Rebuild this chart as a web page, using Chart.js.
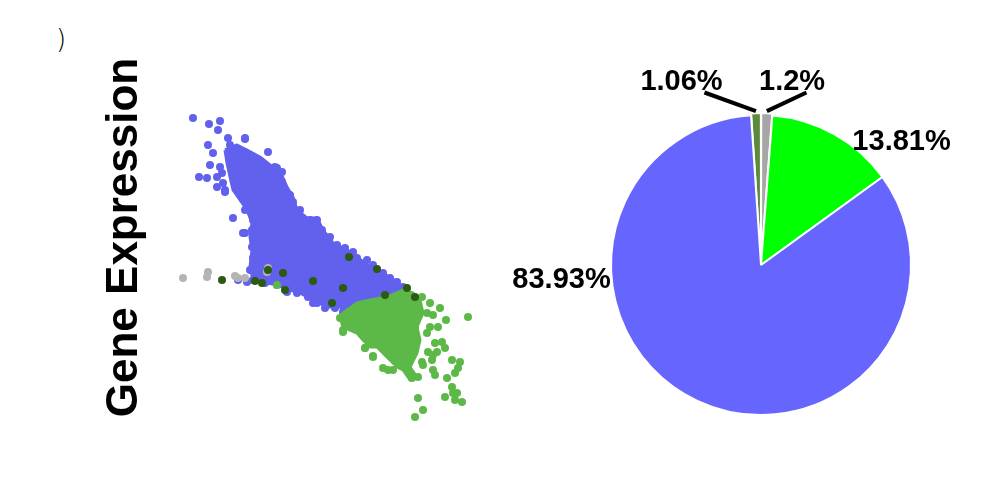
<!DOCTYPE html>
<html>
<head>
<meta charset="utf-8">
<script src="https://cdn.jsdelivr.net/npm/chart.js@4/dist/chart.umd.min.js"></script>
<style>
  body { margin: 0; background: #fff; }
  #wrap { position: relative; width: 1003px; height: 497px; overflow: hidden; }
  #left { position: absolute; left: 0; top: 0; width: 500px; height: 497px; }
  #right { position: absolute; left: 500px; top: 0; width: 503px; height: 497px; }
  #tag { position: absolute; left: 56px; top: 24px; font: 300 26px "DejaVu Sans", sans-serif; color: #000; }
</style>
</head>
<body>
<div id="wrap">
  <span id="tag">)</span>
  <div id="left"><canvas id="scatterChart"></canvas></div>
  <div id="right"><canvas id="pieChart"></canvas></div>
</div>
<script>
// datos (unidades arbitrarias)
const blueCore = [[55,280],[67,285],[77,280],[90,273],[100,265],[110,259],[117,243],[123,233],[127,220],[137,212],[147,212],[153,200],[163,187],[177,180],[187,173],[200,163],[213,157],[227,148],[233,142],[220,133],[207,130],[190,127],[177,120],[170,123],[157,123],[143,130],[130,137],[120,140],[107,145],[93,148],[83,150],[80,163],[82,180],[80,193],[82,207],[77,220],[70,230],[63,240],[60,253],[57,267],[55,280]];
const bluePoints = [[23,312],[39,306],[50,309],[48,300],[58,292],[75,291],[38,285],[43,277],[40,265],[50,263],[29,253],[37,252],[47,253],[47,243],[55,240],[53,247],[63,212],[75,197],[98,278],[107,262],[85,260],[130,220],[77,148],[68,150],[143,127],[155,122],[165,122],[173,118],[60,285],[72,278],
    [75,292],[105,263],[112,258],[112,248],[120,235],[123,228],[140,210],[147,210],[152,200],[160,193],[167,185],[175,182],[183,178],[187,172],[197,170],[203,165],[213,157],[220,152],[227,148],[233,143],
    [83,210],[82,200],[82,183],[83,172],[80,160],[83,150],[95,147],[107,145],[117,138],[127,137],[138,133],[147,127],[157,125],[165,123],
    [75,220],[73,197],[55,238],[52,257]];
const greenCore = [[170,113],[173,117],[187,127],[200,130],[217,133],[233,140],[243,137],[250,130],[253,117],[247,103],[250,90],[247,77],[240,63],[247,53],[240,50],[233,60],[227,63],[220,70],[213,77],[207,83],[200,83],[193,90],[187,97],[180,100],[173,103],[170,113]];
const greenPoints = [[298,113],[276,110],[270,122],[260,127],[263,115],[268,103],[257,97],[265,87],[272,88],[275,82],[263,75],[258,78],[282,70],[290,68],[288,62],[285,57],[277,52],[282,43],[283,37],[285,30],[292,28],[275,33],[248,32],[253,20],[245,13],[213,62],[203,73],[195,82],[237,95],[245,102],[252,68],[242,52],[263,60],[265,55],[173,98],[218,60],[287,37],[107,145],
    [173,100],[195,82],[203,74],[223,60],[248,53],[242,107],[252,133],[257,117],[260,103],[267,78],[262,70],[253,65],[170,112]];
const darkGreenPoints = [[52,150],[85,149],[92,147],[98,160],[113,157],[115,140],[143,149],[179,173],[207,161],[173,142],[237,142],[245,133],[215,135],[162,127]];
const grayPoints = [[13,152],[37,153],[38,158],[65,154],[68,152],[75,152],[98,162],[97,158]];

const pieValues = [1.06, 1.2, 13.81, 83.93];
const pieColors = ['#5b8a3a', '#a6a6a6', '#00ff00', '#6666ff'];

const toXY = arr => arr.map(p => ({ x: p[0], y: p[1] }));

const labelFont = 'bold 29px "Liberation Sans", Arial, sans-serif';
// posicion de etiquetas relativa al radio del pastel
const labelPos = [[-0.53, -1.223], [0.207, -1.223], [0.937, -0.823], [-1.33, 0.103]];
const leaderStart = { 0: [-0.377, -1.15], 1: [0.303, -1.15] };

const pieLabels = {
    id: 'pieLabels',
    afterDatasetsDraw(chart) {
        const ctx = chart.ctx;
        const arcs = chart.getDatasetMeta(0).data;
        const cx = arcs[0].x, cy = arcs[0].y, r = arcs[0].outerRadius;
        ctx.save();
        ctx.strokeStyle = '#000';
        ctx.lineWidth = 4;
        Object.keys(leaderStart).forEach(k => {
            const a = arcs[k];
            const mid = (a.startAngle + a.endAngle) / 2;
            const off = a.options.offset || 0;
            ctx.beginPath();
            ctx.moveTo(cx + leaderStart[k][0] * r, cy + leaderStart[k][1] * r);
            ctx.lineTo(cx + Math.cos(mid) * (r + off), cy + Math.sin(mid) * (r + off));
            ctx.stroke();
        });
        ctx.font = labelFont;
        ctx.fillStyle = '#000';
        ctx.textAlign = 'center';
        ctx.textBaseline = 'middle';
        pieValues.forEach((v, i) => {
            ctx.fillText(v + '%', cx + labelPos[i][0] * r, cy + labelPos[i][1] * r);
        });
        ctx.restore();
    }
};

new Chart(document.getElementById('scatterChart'), {
    type: 'scatter',
    data: {
        datasets: [
            { data: toXY(darkGreenPoints), backgroundColor: '#2b5a10', borderWidth: 0, pointRadius: 4, order: 1 },
            { data: toXY(grayPoints), backgroundColor: '#b4b4b4', borderWidth: 0, pointRadius: 4, order: 2 },
            { data: toXY(greenPoints), backgroundColor: '#5cb948', borderWidth: 0, pointRadius: 4, order: 3 },
            { data: toXY(greenCore), showLine: true, fill: 'shape', backgroundColor: '#5cb948', borderColor: '#5cb948', borderWidth: 3, borderJoinStyle: 'round', pointRadius: 0, tension: 0, order: 4 },
            { data: toXY(bluePoints), backgroundColor: '#6161ee', borderWidth: 0, pointRadius: 4, order: 5 },
            { data: toXY(blueCore), showLine: true, fill: 'shape', backgroundColor: '#6161ee', borderColor: '#6161ee', borderWidth: 3, borderJoinStyle: 'round', pointRadius: 0, tension: 0, order: 6 }
        ]
    },
    options: {
        responsive: true,
        maintainAspectRatio: false,
        animation: false,
        layout: { padding: { left: 103, right: 20, top: 45, bottom: 67 } },
        plugins: { legend: { display: false }, tooltip: { enabled: false } },
        scales: {
            x: { type: 'linear', display: false, min: -23, max: 310 },
            y: {
                type: 'linear', min: 0, max: 385,
                grid: { display: false, drawTicks: false },
                border: { display: false },
                ticks: { display: false },
                title: {
                    display: true,
                    text: 'Gene Expression',
                    color: '#000',
                    padding: 0,
                    font: { family: '"Liberation Sans", Arial, sans-serif', size: 44, weight: 'bold', lineHeight: 1 }
                }
            }
        }
    }
});

new Chart(document.getElementById('pieChart'), {
    type: 'pie',
    data: {
        labels: ['c1', 'c2', 'c3', 'c4'],
        datasets: [{
            data: pieValues,
            backgroundColor: pieColors,
            borderColor: '#fff',
            borderWidth: 2,
            offset: [4, 4, 0, 0],
            hoverOffset: 0
        }]
    },
    options: {
        responsive: true,
        maintainAspectRatio: false,
        animation: false,
        rotation: -3.8,
        layout: { padding: { left: 108, right: 89, top: 112, bottom: 79 } },
        plugins: { legend: { display: false }, tooltip: { enabled: false } }
    },
    plugins: [pieLabels]
});
</script>
</body>
</html>
